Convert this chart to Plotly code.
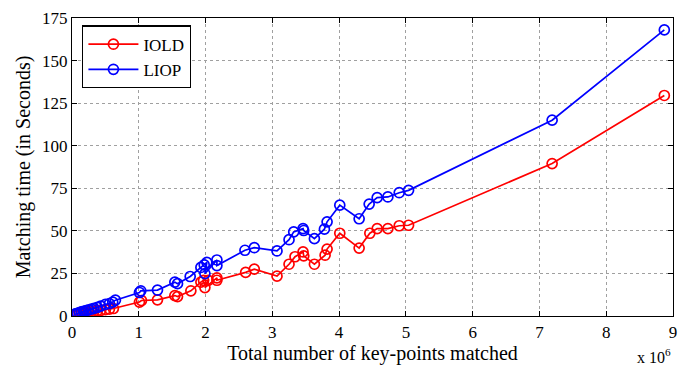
import plotly.graph_objects as go

# x values in millions of key-points (axis shows x 10^6)
iold_x = [0.05, 0.08, 0.11, 0.14, 0.17, 0.21, 0.25, 0.29, 0.33, 0.38, 0.43, 0.50, 0.56, 0.62,
          1.01, 1.04, 1.28, 1.54, 1.58, 1.78, 1.93, 1.97, 2.04, 1.99, 2.17, 2.17,
          2.60, 2.73, 3.07, 3.25, 3.34, 3.46, 3.47, 3.63, 3.79, 3.82, 4.01, 4.30,
          4.46, 4.57, 4.73, 4.90, 5.04, 7.19, 8.87]
iold_y = [0.5, 0.8, 1.0, 1.3, 1.6, 1.9, 2.2, 2.5, 2.8, 3.1, 3.3, 3.7, 4.0, 4.4,
          8.2, 9.1, 9.5, 12.0, 11.4, 14.8, 19.9, 20.9, 20.9, 16.7, 22.4, 21.0,
          25.6, 27.5, 23.4, 30.4, 34.8, 37.6, 35.3, 30.4, 35.7, 39.3, 48.6, 39.9,
          48.6, 51.3, 51.3, 53.0, 53.3, 89.5, 129.5]

liop_x = [0.05, 0.08, 0.11, 0.14, 0.17, 0.21, 0.25, 0.29, 0.33, 0.38, 0.43, 0.50, 0.56, 0.61, 0.65,
          1.01, 1.03, 1.28, 1.54, 1.58, 1.77, 1.93, 1.98, 2.02, 1.99, 2.17, 2.17,
          2.59, 2.73, 3.07, 3.25, 3.32, 3.46, 3.47, 3.63, 3.78, 3.82, 4.01, 4.30,
          4.45, 4.57, 4.73, 4.90, 5.04, 7.19, 8.87]
liop_y = [1.2, 1.6, 2.0, 2.4, 2.8, 3.2, 3.6, 4.1, 4.5, 5.1, 5.8, 6.8, 7.3, 8.2, 9.3,
          13.8, 14.8, 15.2, 19.9, 19.0, 23.2, 28.5, 30.0, 31.5, 24.9, 32.9, 29.6,
          38.6, 40.1, 38.2, 44.8, 49.4, 51.3, 50.2, 45.4, 51.0, 55.3, 65.1, 57.1,
          65.7, 69.5, 69.9, 72.4, 73.8, 115.0, 168.0]

x_ticks = [0, 1, 2, 3, 4, 5, 6, 7, 8, 9]
y_ticks = [0, 25, 50, 75, 100, 125, 150, 175]

FONT = "Liberation Serif, Times New Roman, serif"

fig = go.Figure()
fig.add_trace(go.Scatter(
    x=iold_x, y=iold_y, mode="lines+markers", name="IOLD",
    line=dict(color="#ff0000", width=1.7),
    marker=dict(symbol="circle-open", size=10, color="#ff0000", line=dict(width=1.7)),
))
fig.add_trace(go.Scatter(
    x=liop_x, y=liop_y, mode="lines+markers", name="LIOP",
    line=dict(color="#0000ff", width=1.7),
    marker=dict(symbol="circle-open", size=10, color="#0000ff", line=dict(width=1.7)),
))

axis_common = dict(
    showline=True, linecolor="black", linewidth=1.2, mirror="ticks",
    ticks="inside", ticklen=5, tickcolor="black",
    showgrid=True, gridcolor="#a0a0a0", griddash="dot", gridwidth=1,
    zeroline=False, tickfont=dict(family=FONT, size=17, color="black"),
    ticklabeloverflow="allow",
)

fig.update_layout(
    width=700, height=368,
    margin=dict(l=72, r=27, t=9, b=52),
    paper_bgcolor="white", plot_bgcolor="white",
    font=dict(family=FONT, size=17, color="black"),
    showlegend=True,
    legend=dict(
        x=0.017, y=0.975, xanchor="left", yanchor="top",
        bgcolor="white", bordercolor="black", borderwidth=1.2,
        font=dict(family=FONT, size=17, color="black"),
        itemwidth=50, tracegroupgap=0,
    ),
    xaxis=dict(
        range=[0, 9], tickvals=x_ticks, ticktext=[str(v) for v in x_ticks],
        title=dict(text="Total number of key-points matched",
                   font=dict(family=FONT, size=20), standoff=2),
        **axis_common,
    ),
    yaxis=dict(
        range=[0, 175], tickvals=y_ticks, ticktext=[str(v) for v in y_ticks],
        title=dict(text="Matching time (in Seconds)",
                   font=dict(family=FONT, size=20), standoff=6),
        **axis_common,
    ),
)

fig.add_annotation(
    x=1.0, y=-0.135, xref="paper", yref="paper", xanchor="right", yanchor="middle",
    text="x 10<sup>6</sup>", showarrow=False,
    font=dict(family=FONT, size=16, color="black"),
)

fig.write_html("out.html")
